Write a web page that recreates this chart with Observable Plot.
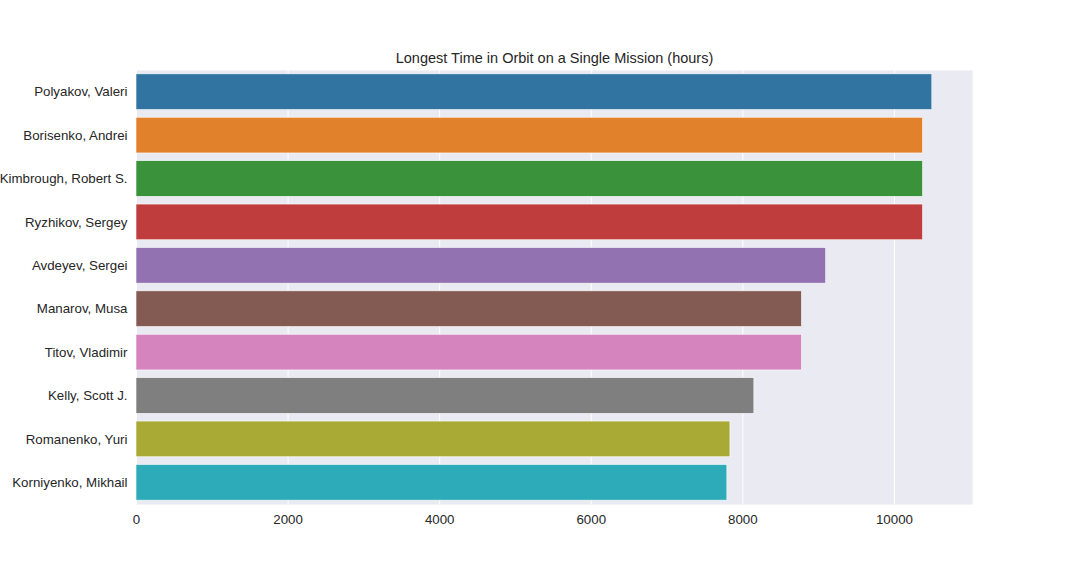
<!DOCTYPE html>
<html>
<head>
<meta charset="utf-8">
<script src="https://cdn.jsdelivr.net/npm/d3@7"></script>
<script src="https://cdn.jsdelivr.net/npm/@observablehq/plot@0.6"></script>
<style>
  html, body { margin: 0; padding: 0; background: #fff; }
  #chart { width: 1080px; height: 576px; }
</style>
</head>
<body>
<div id="chart"></div>
<script>
const names = [
  "Polyakov, Valeri",
  "Borisenko, Andrei",
  "Kimbrough, Robert S.",
  "Ryzhikov, Sergey",
  "Avdeyev, Sergei",
  "Manarov, Musa",
  "Titov, Vladimir",
  "Kelly, Scott J.",
  "Romanenko, Yuri",
  "Korniyenko, Mikhail"
];
const hours = [10500, 10378, 10378, 10378, 9100, 8780, 8780, 8152, 7836, 7796];
const colors = ["#3274A1", "#E1812C", "#3A923A", "#C03D3E", "#9372B2",
                "#845B53", "#D684BD", "#7F7F7F", "#A9AA35", "#2EABB8"];
const xTicks = [0, 2000, 4000, 6000, 8000, 10000];
const title = "Longest Time in Orbit on a Single Mission (hours)";

const data = names.map((n, i) => ({name: n, hours: hours[i], color: colors[i]}));

const chart = Plot.plot({
  width: 1080,
  height: 576,
  marginLeft: 136,
  marginRight: 108,
  marginTop: 70,
  marginBottom: 72,
  style: {fontFamily: "'Liberation Sans', Arial, sans-serif", fontSize: "13.3px", color: "#262626", background: "#fff"},
  x: {domain: [0, 11030], ticks: xTicks, tickFormat: d => String(d), label: null, tickSize: 0, tickPadding: 10},
  y: {domain: names, label: null, tickSize: 0, tickPadding: 9, paddingInner: 0.2, paddingOuter: 0.1, round: false},
  marks: [
    Plot.frame({fill: "#EAEAF2", stroke: null}),
    Plot.gridX(xTicks, {stroke: "#ffffff", strokeOpacity: 1, strokeWidth: 1}),
    Plot.barX(data, {x: "hours", y: "name", fill: "color", stroke: "#ffffff", strokeWidth: 0.6, insetTop: -0.5, insetBottom: -0.5}),
    Plot.axisX({ticks: xTicks, tickFormat: d => String(d), tickSize: 0, tickPadding: 10, label: null, fontSize: 13.3}),
    Plot.axisY({tickSize: 0, tickPadding: 9, label: null, fontSize: 13.3}),
    Plot.text([title], {frameAnchor: "top", dy: -18, fontSize: 14.5, fill: "#262626"})
  ]
});
document.getElementById("chart").appendChild(chart);
</script>
</body>
</html>
